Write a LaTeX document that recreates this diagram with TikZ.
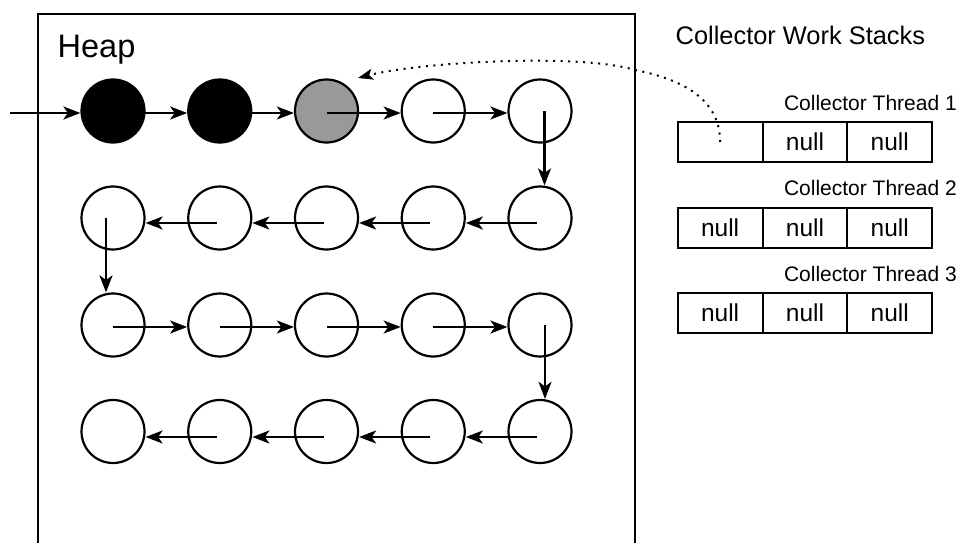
\documentclass[tikz,border=0pt]{standalone}
\usepackage{fontspec}
\setmainfont{Liberation Sans}
\usetikzlibrary{arrows.meta}
\definecolor{markgray}{RGB}{153,153,153}

\begin{document}
\begin{tikzpicture}[x=1pt,y=-1pt,
  obj/.style={circle,draw,line width=2.2pt,minimum size=63pt,inner sep=0pt,fill=white},
  live/.style={obj,fill=black},
  pending/.style={obj,fill=markgray},
  ptr/.style={-{Stealth[length=17pt,width=13pt,inset=4.5pt]},line width=2.2pt},
  refptr/.style={-{Stealth[length=15pt,width=11pt,inset=3.5pt]},line width=2pt,
    dash pattern=on 2pt off 5.5pt},
  cell/.style={draw,line width=2pt,minimum width=84.9pt,minimum height=40.6pt,
    inner sep=0pt,font=\fontsize{24.5}{29}\selectfont},
  threadlbl/.style={anchor=base east,inner sep=0pt,font=\fontsize{21}{25}\selectfont}
]
\useasboundingbox (0,0) rectangle (960,543);

% heap region (open at the bottom)
\draw[line width=2pt] (37.5,543) -- (37.5,14.5) -- (634.5,14.5) -- (634.5,543);
\node[anchor=base west,inner sep=0pt,font=\fontsize{32.5}{38}\selectfont] (heap) at (57.5,57) {Heap};

% objects, first row: two marked, one on the stack, the rest unvisited
\node[live]    (r1c1) at (113,111) {};
\node[live]    (r1c2) at (219.75,111) {};
\node[pending] (r1c3) at (326.5,111) {};
\node[obj]     (r1c4) at (433.25,111) {};
\node[obj]     (r1c5) at (540,111) {};
\foreach \r/\y in {2/218,3/325,4/431.5}
  \foreach \c in {1,...,5}
    \node[obj] (r\r c\c) at ({113+106.75*(\c-1)},\y) {};

% root reference and the object chain
\coordinate (root) at (10,113);
\draw[ptr] (root) -- ([yshift=-2pt]r1c1.west);
\foreach \a/\b in {1/2,2/3,3/4,4/5}
  \draw[ptr] ([yshift=-2pt]r1c\a.center) -- ([yshift=-2pt]r1c\b.west);
\draw[ptr] ([xshift=4.5pt]r1c5.center) -- ([xshift=4.5pt]r2c5.north);
\foreach \a/\b in {5/4,4/3,3/2,2/1}
  \draw[ptr] ([xshift=-3pt,yshift=-5pt]r2c\a.center) -- ([yshift=-5pt]r2c\b.east);
\draw[ptr] ([xshift=-7pt]r2c1.center) -- ([xshift=-7pt]r3c1.north);
\foreach \a/\b in {1/2,2/3,3/4,4/5}
  \draw[ptr] ([yshift=-2pt]r3c\a.center) -- ([yshift=-2pt]r3c\b.west);
\draw[ptr] ([xshift=5pt]r3c5.center) -- ([xshift=5pt]r4c5.north);
\foreach \a/\b in {5/4,4/3,3/2,2/1}
  \draw[ptr] ([xshift=-3pt,yshift=-5.5pt]r4c\a.center) -- ([yshift=-5.5pt]r4c\b.east);

% collector work stacks
\node[anchor=base west,inner sep=0pt,font=\fontsize{25.4}{30}\selectfont] (stacks) at (675.5,45) {Collector Work Stacks};
\node[threadlbl] (t1) at (957,110) {Collector Thread 1};
\node[threadlbl] (t2) at (957,195) {Collector Thread 2};
\node[threadlbl] (t3) at (957,281) {Collector Thread 3};

\node[cell] (s1c1) at (720.1,142) {};
\node[cell] (s1c2) at (805,142) {null};
\node[cell] (s1c3) at (889.8,142) {null};
\node[cell] (s2c1) at (720.1,228) {null};
\node[cell] (s2c2) at (805,228) {null};
\node[cell] (s2c3) at (889.8,228) {null};
\node[cell] (s3c1) at (720.1,313) {null};
\node[cell] (s3c2) at (805,313) {null};
\node[cell] (s3c3) at (889.8,313) {null};

% stack entry referring to the grey object
\coordinate (target) at (358,78);
\draw[refptr] (s1c1.center) .. controls (720,95) and (675,78) .. (635,70)
  .. controls (580,53) and (420,62) .. (target);
\end{tikzpicture}
\end{document}
